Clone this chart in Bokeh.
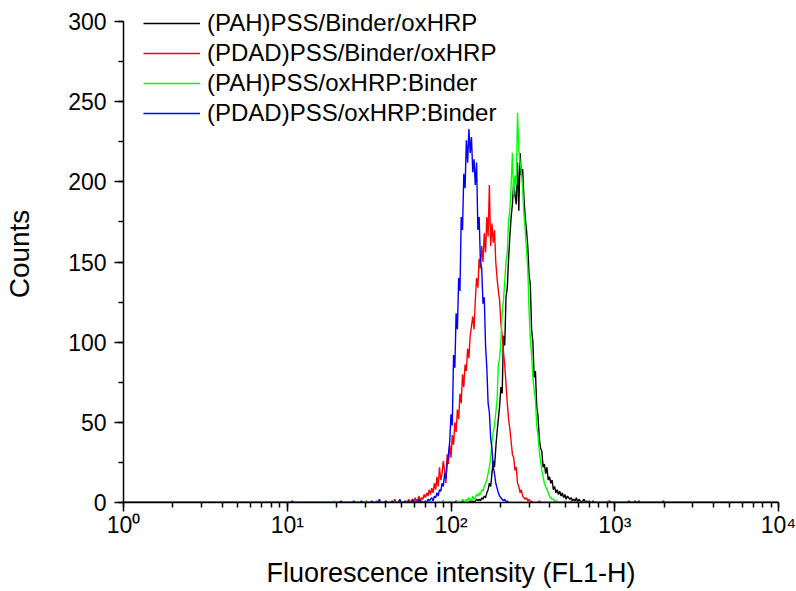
import numpy as np
from bokeh.plotting import figure
from bokeh.models import (Range1d, SingleIntervalTicker, LogTicker, Legend, LegendItem,
                          CustomJSTickFormatter)
from bokeh.embed import file_html
from bokeh.resources import INLINE

# ---------------- data ----------------
series_names = ["(PAH)PSS/Binder/oxHRP", "(PDAD)PSS/Binder/oxHRP",
                "(PAH)PSS/oxHRP:Binder", "(PDAD)PSS/oxHRP:Binder"]
series_colors = ["#000000", "#ff0000", "#00ff00", "#0000ff"]

# 1024 log channels spanning 4 decades (FL1-H), sampled every 2 channels
channels = list(range(0, 1026, 2))
channels_per_decade = 256

# (PAH)PSS/Binder/oxHRP  (black)
black_start = 540
black_counts = [0, 1, 0, 1, 0, 1, 2, 1, 2, 1, 3, 2, 4, 3, 6, 8, 12, 10, 18, 26,
                22, 34, 44, 52, 60, 72, 68, 104, 98, 128, 134, 152, 166, 178, 186, 200, 192, 186, 212, 182,
                218, 204, 208, 190, 178, 170, 160, 142, 136, 108, 100, 78, 82, 60, 54, 40, 34, 32, 22, 24,
                18, 22, 14, 16, 12, 14, 8, 10, 6, 8, 5, 7, 4, 6, 3, 5, 2, 4, 3, 2,
                3, 1, 2, 1, 3, 0, 2, 1, 0, 1, 2, 0, 1, 0, 1, 0, 0, 1, 0, 0, 0]
black_blip_ch = [500, 520, 530, 760, 790, 800, 806, 844]
black_blip_n = [1, 1, 1, 1, 1, 1, 1, 1]

# (PDAD)PSS/Binder/oxHRP  (red)
red_start = 440
red_counts = [0, 1, 0, 2, 0, 1, 2, 0, 3, 1, 2, 4, 1, 3, 2, 5, 3, 6, 4, 8,
              5, 9, 6, 12, 8, 16, 10, 22, 14, 18, 26, 20, 12, 30, 24, 36, 28, 42, 36, 50,
              44, 58, 52, 68, 62, 80, 72, 86, 82, 96, 90, 104, 110, 116, 108, 126, 140, 134, 152, 146,
              160, 150, 168, 156, 178, 166, 198, 160, 174, 162, 170, 150, 140, 132, 126, 112, 104, 94, 86, 74,
              62, 52, 46, 38, 30, 28, 20, 22, 12, 10, 6, 8, 4, 3, 2, 3, 1, 2, 0, 1, 0]
red_blip_ch = [380, 396, 410, 424, 432, 650, 676, 700, 758]
red_blip_n = [1, 1, 1, 2, 1, 1, 1, 1, 1]

# (PAH)PSS/oxHRP:Binder  (green)
green_start = 520
green_counts = [0, 1, 0, 1, 0, 2, 1, 0, 2, 1, 3, 2, 1, 4, 2, 3, 5, 4, 6, 5,
                8, 7, 10, 12, 14, 18, 22, 28, 38, 44, 48, 56, 64, 86, 90, 100, 118, 126, 138, 150,
                156, 176, 182, 198, 218, 192, 204, 198, 243, 220, 212, 206, 196, 180, 170, 158, 146, 120, 102, 92,
                78, 70, 64, 48, 42, 32, 26, 20, 16, 12, 10, 8, 6, 4, 3, 2, 2, 1, 0, 1, 0]
green_blip_ch = [330, 380, 430, 460, 480, 500, 510, 690]
green_blip_n = [1, 1, 1, 1, 1, 1, 1, 1]

# (PDAD)PSS/oxHRP:Binder  (blue)
blue_start = 470
blue_counts = [0, 1, 0, 2, 1, 2, 3, 1, 4, 3, 6, 4, 8, 7, 12, 10, 18, 15, 24, 30,
               38, 55, 48, 92, 84, 118, 108, 140, 132, 178, 170, 205, 196, 226, 212, 233, 218, 228, 206, 214,
               198, 212, 170, 178, 150, 146, 124, 128, 98, 84, 62, 56, 40, 34, 22, 18, 12, 9, 6, 4,
               3, 2, 1, 2, 0, 1]
blue_blip_ch = [264, 340, 360, 372, 388, 400, 410, 420, 432, 440, 446, 452, 458, 462, 466]
blue_blip_n = [1, 1, 1, 1, 1, 2, 1, 1, 2, 1, 1, 2, 1, 2, 1]

y_axis_max = 300
y_ticks_interval = 50


def build(start, counts, blip_ch, blip_n):
    arr = np.zeros(len(channels))
    i0 = channels.index(start)
    arr[i0:i0 + len(counts)] = counts
    for c, n in zip(blip_ch, blip_n):
        arr[channels.index(c)] = n
    return arr


series = [build(black_start, black_counts, black_blip_ch, black_blip_n),
          build(red_start, red_counts, red_blip_ch, red_blip_n),
          build(green_start, green_counts, green_blip_ch, green_blip_n),
          build(blue_start, blue_counts, blue_blip_ch, blue_blip_n)]

x = 10 ** (np.array(channels) / channels_per_decade)

# ---------------- figure ----------------
FONT = "Liberation Sans"
# a little head-room above 300 so the legend (which sits above the top tick) is not clipped
p = figure(width=796, height=591, x_axis_type="log", output_backend="svg",
           toolbar_location=None, x_range=Range1d(1, 10000), y_range=Range1d(0, 310),
           min_border_left=123, min_border_right=18, min_border_top=5, min_border_bottom=89)
p.background_fill_color = "white"
p.border_fill_color = "white"
p.outline_line_color = None
p.grid.visible = False

renderers = []
for ys, col in zip(series, series_colors):
    r = p.line(x, ys, line_color=col, line_width=1.4)
    renderers.append(r)

legend = Legend(items=[LegendItem(label=n, renderers=[r]) for n, r in zip(series_names, renderers)],
                location=(20, 374), glyph_width=57, glyph_height=30, label_height=30,
                spacing=0, padding=0, margin=0, label_standoff=7,
                border_line_color=None, background_fill_alpha=0,
                label_text_font=FONT, label_text_font_size="24px", label_text_color="black")
p.add_layout(legend)

# axes
for ax in (p.xaxis[0], p.yaxis[0]):
    ax.axis_line_color = "black"
    ax.axis_line_width = 1.5
    ax.major_tick_line_color = "black"
    ax.major_tick_line_width = 1.5
    ax.minor_tick_line_color = "black"
    ax.minor_tick_line_width = 1.5
    ax.major_tick_in = 0
    ax.minor_tick_in = 0
    ax.major_tick_out = 9
    ax.minor_tick_out = 5
    ax.major_label_text_font = FONT
    ax.major_label_text_color = "black"
    ax.axis_label_text_font = FONT
    ax.axis_label_text_font_style = "normal"
    ax.axis_label_text_color = "black"

p.xaxis.ticker = LogTicker(num_minor_ticks=10)
p.xaxis.formatter = CustomJSTickFormatter(code="""
const sup = ['\u2070','\u00b9','\u00b2','\u00b3','\u2074','\u2075'];
const e = Math.round(Math.log10(tick));
return '10' + sup[e];
""")
p.xaxis.major_label_text_font_size = "23px"
p.xaxis.major_label_standoff = 0
p.xaxis.axis_label = "Fluorescence intensity (FL1-H)"
p.xaxis.axis_label_text_font_size = "27px"
p.xaxis.axis_label_standoff = 17

p.yaxis.bounds = (0, y_axis_max)
p.yaxis.ticker = SingleIntervalTicker(interval=y_ticks_interval, num_minor_ticks=2)
p.yaxis.major_label_text_font_size = "23px"
p.yaxis.major_label_standoff = 8
p.yaxis.axis_label = "Counts"
p.yaxis.axis_label_text_font_size = "28px"
p.yaxis.axis_label_standoff = 30

open("out.html", "w").write(file_html(p, INLINE))
